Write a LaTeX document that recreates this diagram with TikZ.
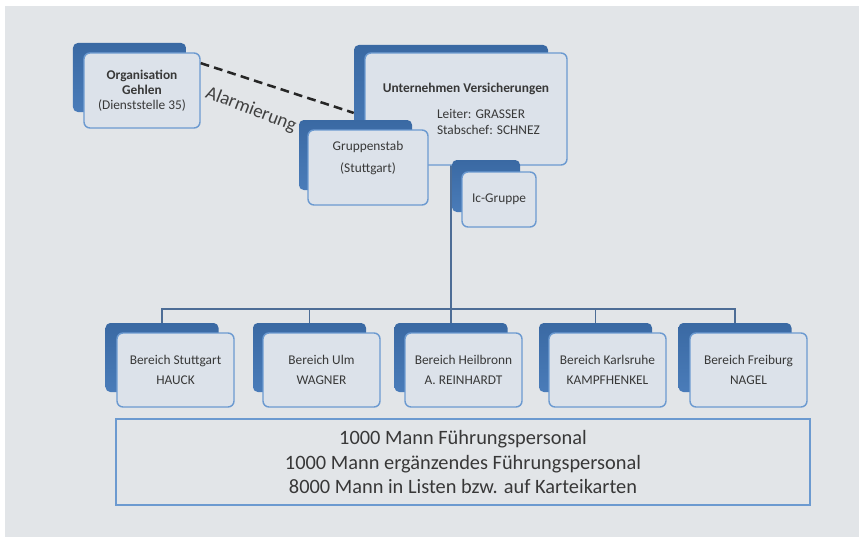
\documentclass[tikz,border=0pt]{standalone}
\usepackage{fontspec}
\setmainfont{Carlito}
\usepackage{tikz}
\usetikzlibrary{positioning}

\definecolor{bgray}{HTML}{E2E5E8}
\definecolor{backblue}{HTML}{4A7CB9}
\definecolor{backtop}{HTML}{3A69A3}
\definecolor{frontfill}{HTML}{DCE2EA}
\definecolor{frontline}{HTML}{6C9AD0}
\definecolor{connline}{HTML}{4D6D96}
\definecolor{txt}{HTML}{383838}

\pgfdeclarelayer{background}
\pgfsetlayers{background,main}

\begin{document}
\begin{tikzpicture}[x=0.25mm,y=0.25mm,
  backbox/.style={rectangle,rounded corners=1.2mm,top color=backtop,bottom color=backblue,
    draw=none,inner sep=0pt},
  frontbox/.style={rectangle,rounded corners=1.5mm,fill=frontfill,draw=frontline,line width=1pt,
    align=center,text=txt,inner sep=0pt,font=\fontsize{9.5}{14.2}\selectfont},
  areaback/.style={backbox,minimum width=28.25mm,minimum height=17.25mm},
  areafront/.style={frontbox,minimum width=29.25mm,minimum height=18.5mm},
  conn/.style={draw=connline,line width=1.3pt},
  alarmline/.style={draw=black!85,line width=1.8pt,dash pattern=on 2.2mm off 1.3mm},
  alarmtext/.style={text=black!75,font=\fontsize{13.5}{15}\selectfont,inner sep=0pt}]

  \useasboundingbox (0,0) rectangle (859,-539);
  \begin{pgfonlayer}{background}
    \fill[bgray] (5,-6) rectangle (859,-537);
  \end{pgfonlayer}

  \node[backbox,minimum width=28.25mm,minimum height=17.25mm] (geh-b) at (129.5,-77.5) {};
  \node[frontbox,minimum width=29mm,minimum height=18.75mm,font=\fontsize{9.5}{10.5}\selectfont]
    (geh) at (142,-90.5) {\textbf{Organisation}\\\textbf{Gehlen}\\(Dienststelle 35)};

  \node[backbox,minimum width=48.5mm,minimum height=26.25mm] (unt-b) at (451,-97.5) {};
  \node[frontbox,minimum width=50.5mm,minimum height=28mm,font=\fontsize{9.5}{11.5}\selectfont]
    (unt) at (466,-109) {\textbf{Unternehmen Versicherungen}\\[2.4mm]
    \hspace*{8.5mm}\makebox[23mm][l]{Leiter: GRASSER}\\
    \hspace*{8.5mm}\makebox[23mm][l]{Stabschef: SCHNEZ}};

  \node[backbox,minimum width=28.25mm,minimum height=17.5mm] (stab-b) at (355.5,-155) {};
  \node[frontbox,minimum width=30mm,minimum height=18.75mm]
    (stab) at (368,-167.5) {Gruppenstab\\[0.4mm](Stuttgart)\\[0.4mm]~};

  \node[backbox,minimum width=17mm,minimum height=13mm] (ic-b) at (486,-186) {};
  \node[frontbox,minimum width=18.5mm,minimum height=13.75mm] (ic) at (499,-199.5) {Ic-Gruppe};

  \node[areaback] (stg-b) at (162,-357.5) {};
  \node[areafront] (stg) at (175.5,-370) {Bereich Stuttgart\\HAUCK};
  \node[areaback] (ulm-b) at (309.5,-357.5) {};
  \node[areafront] (ulm) at (321.5,-370) {Bereich Ulm\\WAGNER};
  \node[areaback] (heil-b) at (451,-357.5) {};
  \node[areafront] (heil) at (463.5,-370) {Bereich Heilbronn\\A. REINHARDT};
  \node[areaback] (krh-b) at (595.5,-357.5) {};
  \node[areafront] (krh) at (607.5,-370) {Bereich Karlsruhe\\KAMPFHENKEL};
  \node[areaback] (frb-b) at (735,-357.5) {};
  \node[areafront] (frb) at (748.5,-370) {Bereich Freiburg\\NAGEL};

  \node[rectangle,draw=frontline,line width=1.6pt,fill=bgray,minimum width=173.5mm,
    minimum height=21.5mm,align=center,text=txt,font=\fontsize{14.5}{17.7}\selectfont]
    (staff) at (463,-462) {1000 Mann Führungspersonal\\1000 Mann ergänzendes Führungspersonal\\
    8000 Mann in Listen bzw. auf Karteikarten};

  \coordinate (bar) at (451,-309);

  \begin{pgfonlayer}{background}
    \draw[conn] (unt-b.south) -- (heil-b.north);
    \draw[conn] (stg-b.north) |- (bar) -| (frb-b.north);
    \draw[conn] (ulm-b.north) -- (ulm-b.north |- bar);
    \draw[conn] (krh-b.north) -- (krh-b.north |- bar);
  \end{pgfonlayer}

  \draw[alarmline] (geh.25) -- node[pos=0.39,below=4.8mm,sloped,rotate=-3,alarmtext] (alarm) {Alarmierung} (unt-b.189);
\end{tikzpicture}
\end{document}
